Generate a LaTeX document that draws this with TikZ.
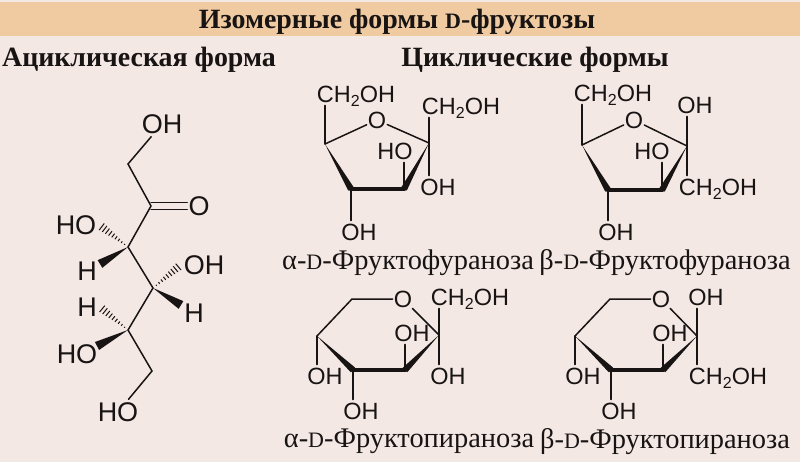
\documentclass[tikz,border=0pt]{standalone}
\usepackage{fontspec}
\setmainfont{Liberation Serif}
\newfontfamily\atomfont{Liberation Sans}
\usepackage{tikz}
\usetikzlibrary{calc,positioning}
\definecolor{paper}{RGB}{244,232,228}
\definecolor{band}{RGB}{240,202,160}
\definecolor{ink}{RGB}{24,20,20}
\newcommand{\smalld}{{\fontsize{22}{22}\selectfont D}}
\newcommand{\subtwo}{\raisebox{-4.5pt}{\fontsize{16}{16}\selectfont 2}}
\newcommand{\wedgebond}[3]{\fill[ink] (#1) -- ($(#2)!#3!90:(#1)$) -- ($(#2)!#3!-90:(#1)$) -- cycle;}
\newcommand{\hashbond}[2]{\foreach \t in {0.12,0.22,...,1.01} {
	\coordinate (hashmid) at ($(#1)!\t!(#2)$);
	\draw[ink,line width=1pt] ($(hashmid)!\t*4.5pt!90:(#1)$) -- ($(hashmid)!\t*4.5pt!-90:(#1)$);
}}
\begin{document}
\begin{tikzpicture}[x=1pt, y=-1pt, bond/.style={draw=ink,line width=1.5pt,line cap=round}, heavy/.style={draw=ink,line width=4.8pt,line cap=round}]
	\tikzstyle{atom}=[text=ink,font=\atomfont\fontsize{23.5}{24}\selectfont,text height=16.5pt,text depth=0pt,inner sep=3pt]
	\tikzstyle{ringatom}=[atom,inner sep=1pt]
	\tikzstyle{bigatom}=[atom,font=\atomfont\fontsize{27}{28}\selectfont,text height=19pt]
	\tikzstyle{heading}=[text=ink,font=\bfseries\fontsize{27.9}{30}\selectfont]
	\tikzstyle{caption}=[text=ink,font=\fontsize{28.4}{30}\selectfont,inner sep=0pt]
	\useasboundingbox (0,0) rectangle (800,462);
	\fill[paper] (0,0) rectangle (800,462);
	\fill[band] (0,2) rectangle (800,36);

	\node[heading] (title)  at (397,22) {Изомерные формы \smalld-фруктозы};
	\node[heading] (acyclic) at (139,60) {Ациклическая форма};
	\node[heading] (cyclic)  at (535,60) {Циклические формы};

	\coordinate (c1) at (128,164);
	\coordinate (c2) at (151,206);
	\coordinate (c3) at (128,247);
	\coordinate (c4) at (153,288);
	\coordinate (c5) at (128,330);
	\coordinate (c6) at (152,371);
	\coordinate (w3) at (100,264);
	\coordinate (w4) at (181,305);
	\coordinate (w5) at (97,346);
	\coordinate (d1) at (151,202.5);
	\coordinate (d2) at (151,209.5);
	\node[bigatom] (oh1)  at (162,124) {OH};
	\node[bigatom,inner sep=1pt] (o2) at (199,206) {O};
	\node[bigatom] (ho3)  at (76,225)  {HO};
	\node[bigatom] (h3)   at (87,271)  {H};
	\node[bigatom] (oh4)  at (204,265) {OH};
	\node[bigatom] (h4)   at (194,313) {H};
	\node[bigatom] (h5)   at (87,307)  {H};
	\node[bigatom] (ho5)  at (77,354)  {HO};
	\node[bigatom] (ho6)  at (118,412) {HO};
	\draw[bond] (oh1) -- (c1) -- (c2) -- (c3) -- (c4) -- (c5) -- (c6) -- (ho6);
	\draw[bond] (d1) -- (d1 -| o2.west);
	\draw[bond] (d2) -- (d2 -| o2.west);
	\hashbond{c3}{ho3.east}
	\hashbond{c4}{oh4.west}
	\hashbond{c5}{h5.east}
	\wedgebond{c3}{w3}{4.5pt}
	\wedgebond{c4}{w4}{4.5pt}
	\wedgebond{c5}{w5}{4.5pt}

	\coordinate (a5) at (325,144);
	\coordinate (a4) at (351,189);
	\coordinate (a3) at (404,189);
	\coordinate (a2) at (429,143);
	\node[ringatom] (ao) at (377,120) {O};
	\node[atom] (ach1) at (356,94)  {CH\subtwo OH};
	\node[atom] (ach2) at (461,106) {CH\subtwo OH};
	\node[atom] (aho3) at (395,151) {HO};
	\node[atom] (aoh2) at (438,187) {OH};
	\node[atom] (aoh4) at (359,232) {OH};
	\draw[bond] (ao) -- (a5);
	\draw[bond] (ao) -- (a2);
	\draw[bond] (a5) -- (a5 |- ach1.south);
	\draw[bond] (a2 |- ach2.south) -- (a2 |- aoh2.north);
	\draw[bond] (a3) -- (a3 |- aho3.south);
	\draw[bond] (a4) -- (a4 |- aoh4.north);
	\wedgebond{a5}{a4}{3.2pt}
	\wedgebond{a2}{a3}{3.2pt}
	\draw[heavy] (a4) -- (a3);

	\coordinate (b5) at (582,145);
	\coordinate (b4) at (608,190);
	\coordinate (b3) at (662,190);
	\coordinate (b2) at (687,146);
	\node[ringatom] (bo) at (634,120) {O};
	\node[atom] (bch1) at (613,93)  {CH\subtwo OH};
	\node[atom] (boh2) at (695,105) {OH};
	\node[atom] (bho3) at (652,151) {HO};
	\node[atom] (bch2) at (718,187) {CH\subtwo OH};
	\node[atom] (boh4) at (616,232) {OH};
	\draw[bond] (bo) -- (b5);
	\draw[bond] (bo) -- (b2);
	\draw[bond] (b5) -- (b5 |- bch1.south);
	\draw[bond] (b2 |- boh2.south) -- (b2 |- bch2.north);
	\draw[bond] (b3) -- (b3 |- bho3.south);
	\draw[bond] (b4) -- (b4 |- boh4.north);
	\wedgebond{b5}{b4}{3.2pt}
	\wedgebond{b2}{b3}{3.2pt}
	\draw[heavy] (b4) -- (b3);

	\coordinate (p6) at (352,299);
	\coordinate (p5) at (317,336);
	\coordinate (p4) at (353,370);
	\coordinate (p3) at (405,370);
	\coordinate (p2) at (439,335);
	\node[ringatom] (po) at (403,299) {O};
	\node[atom] (pch2) at (470,297) {CH\subtwo OH};
	\node[atom] (poh3) at (412,333) {OH};
	\node[atom] (poh2) at (448,376) {OH};
	\node[atom] (poh5) at (325,376) {OH};
	\node[atom] (poh4) at (361,411) {OH};
	\draw[bond] (po) -- (p6) -- (p5);
	\draw[bond] (po) -- (p2);
	\draw[bond] (p2 |- pch2.south) -- (p2 |- poh2.north);
	\draw[bond] (p3) -- (p3 |- poh3.south);
	\draw[bond] (p5) -- (p5 |- poh5.north);
	\draw[bond] (p4) -- (p4 |- poh4.north);
	\wedgebond{p5}{p4}{3.2pt}
	\wedgebond{p2}{p3}{3.2pt}
	\draw[heavy] (p4) -- (p3);

	\coordinate (q6) at (610,299);
	\coordinate (q5) at (575,336);
	\coordinate (q4) at (611,370);
	\coordinate (q3) at (663,370);
	\coordinate (q2) at (697,336);
	\node[ringatom] (qo) at (661,299) {O};
	\node[atom] (qoh1) at (706,297) {OH};
	\node[atom] (qoh3) at (670,333) {OH};
	\node[atom] (qch2) at (728,376) {CH\subtwo OH};
	\node[atom] (qoh5) at (583,376) {OH};
	\node[atom] (qoh4) at (619,411) {OH};
	\draw[bond] (qo) -- (q6) -- (q5);
	\draw[bond] (qo) -- (q2);
	\draw[bond] (q2 |- qoh1.south) -- (q2 |- qch2.north);
	\draw[bond] (q3) -- (q3 |- qoh3.south);
	\draw[bond] (q5) -- (q5 |- qoh5.north);
	\draw[bond] (q4) -- (q4 |- qoh4.north);
	\wedgebond{q5}{q4}{3.2pt}
	\wedgebond{q2}{q3}{3.2pt}
	\draw[heavy] (q4) -- (q3);

	\node[caption] (capa) at (408,262.5) {α-\smalld-Фруктофураноза};
	\node[caption] (capb) at (665,262.5) {β-\smalld-Фруктофураноза};
	\node[caption] (capp) at (409,441.5) {α-\smalld-Фруктопираноза};
	\node[caption] (capq) at (665,441.5) {β-\smalld-Фруктопираноза};
\end{tikzpicture}
\end{document}
